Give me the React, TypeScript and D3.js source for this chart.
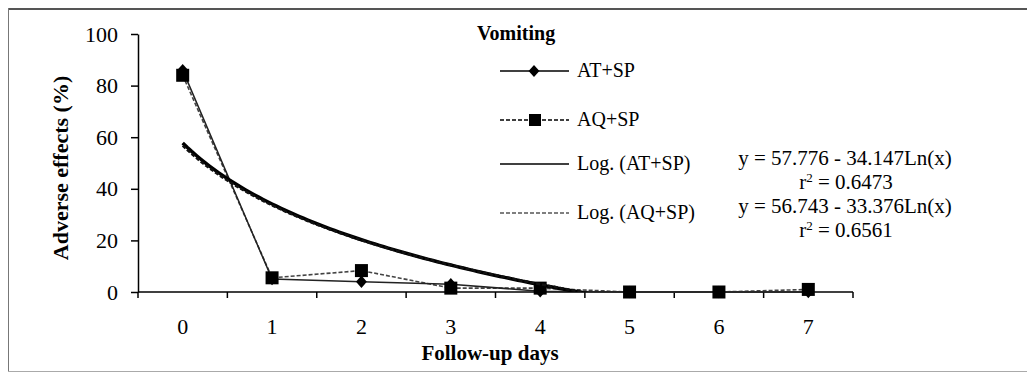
import { useEffect, useRef } from "react";
import * as d3 from "d3";

const days = ["0", "1", "2", "3", "4", "5", "6", "7"];
const atSp = [86, 5, 4, 3, 0.3, 0, 0, 0];
const aqSp = [84, 5.5, 8.3, 1.5, 1.5, 0, 0, 1];
const yTicks = [0, 20, 40, 60, 80, 100];

// trendline coefficients as printed on the chart (x = category index 1..8)
const fitAT = { a: 57.776, b: 34.147, label: "y = 57.776 - 34.147Ln(x)", r2: "0.6473" };
const fitAQ = { a: 56.743, b: 33.376, label: "y = 56.743 - 33.376Ln(x)", r2: "0.6561" };

const FONT = "'Liberation Serif', 'Times New Roman', serif";

export default function App() {
  const svgRef = useRef<SVGSVGElement>(null);

  useEffect(() => {
    const svg = d3.select(svgRef.current);
    svg.selectAll("*").remove();

    const left = 138;
    const right = 853;
    const top = 34;
    const bottom = 292;

    const x = d3.scaleBand<string>().domain(days).range([left, right]);
    const cx = (i: number) => (x(days[i]) ?? 0) + x.bandwidth() / 2;
    const y = d3.scaleLinear().domain([0, 100]).range([bottom, top]);

    // outer frame
    svg.append("line").attr("x1", 8).attr("x2", 1027).attr("y1", 9).attr("y2", 9)
      .attr("stroke", "#555").attr("stroke-width", 2);
    svg.append("line").attr("x1", 8.5).attr("x2", 8.5).attr("y1", 8).attr("y2", 372)
      .attr("stroke", "#777").attr("stroke-width", 1);
    svg.append("line").attr("x1", 8).attr("x2", 1027).attr("y1", 371.5).attr("y2", 371.5)
      .attr("stroke", "#aaa").attr("stroke-width", 1);

    // y axis
    const yAxis = svg.append("g")
      .attr("transform", `translate(${left},0)`)
      .call(d3.axisLeft(y).tickValues(yTicks).tickSize(7).tickSizeOuter(0).tickPadding(13));
    yAxis.select(".domain").attr("stroke", "#000").attr("stroke-width", 1.5);
    yAxis.selectAll("line").attr("stroke", "#000").attr("stroke-width", 1.5);
    yAxis.selectAll("text").attr("font-family", FONT).attr("font-size", 22).attr("fill", "#000");

    // x axis: ticks on category boundaries
    const g = svg.append("g");
    g.append("line").attr("x1", left).attr("x2", right).attr("y1", bottom).attr("y2", bottom)
      .attr("stroke", "#000").attr("stroke-width", 1.5);
    const bounds = days.map((d) => x(d) ?? 0).concat([right]);
    g.selectAll("line.tick").data(bounds).enter().append("line")
      .attr("class", "tick")
      .attr("x1", (d) => d).attr("x2", (d) => d)
      .attr("y1", bottom).attr("y2", bottom + 6)
      .attr("stroke", "#000").attr("stroke-width", 1.5);
    g.selectAll("text").data(days).enter().append("text")
      .attr("x", (_, i) => cx(i)).attr("y", 334)
      .attr("text-anchor", "middle")
      .attr("font-family", FONT).attr("font-size", 22)
      .text((d) => d);

    // axis titles
    svg.append("text")
      .attr("transform", `translate(68,168) rotate(-90)`)
      .attr("text-anchor", "middle")
      .attr("font-family", FONT).attr("font-size", 22).attr("font-weight", "bold")
      .text("Adverse effects (%)");
    svg.append("text")
      .attr("x", 490).attr("y", 360)
      .attr("text-anchor", "middle")
      .attr("font-family", FONT).attr("font-size", 21).attr("font-weight", "bold")
      .text("Follow-up days");

    // clip for trendlines
    svg.append("clipPath").attr("id", "plotClip").append("rect")
      .attr("x", left).attr("y", top).attr("width", right - left).attr("height", bottom - top);

    const line = d3.line<number>().x((_, i) => cx(i)).y((d) => y(d));

    // series AQ+SP (dashed, squares)
    svg.append("path").datum(aqSp).attr("d", line)
      .attr("fill", "none").attr("stroke", "#444").attr("stroke-width", 1.6)
      .attr("stroke-dasharray", "4,2");
    // series AT+SP (solid, diamonds)
    svg.append("path").datum(atSp).attr("d", line)
      .attr("fill", "none").attr("stroke", "#222").attr("stroke-width", 1.5);

    const diamond = d3.symbol().type(d3.symbolDiamond2).size(75);
    svg.selectAll("path.dia").data(atSp).enter().append("path")
      .attr("class", "dia")
      .attr("transform", (d, i) => `translate(${cx(i)},${y(d)}) scale(1,1.15)`)
      .attr("d", diamond()).attr("fill", "#000");
    svg.selectAll("rect.sq").data(aqSp).enter().append("rect")
      .attr("class", "sq")
      .attr("x", (_, i) => cx(i) - 6.5).attr("y", (d) => y(d) - 6.5)
      .attr("width", 13).attr("height", 13).attr("fill", "#000");

    // logarithmic trendlines
    const steps = d3.range(0, 7.001, 0.05);
    const tx = d3.scaleLinear().domain([0, 7]).range([cx(0), cx(7)]);
    const trend = (fit: { a: number; b: number }) =>
      d3.line<number>()
        .x((t) => tx(t))
        .y((t) => y(fit.a - fit.b * Math.log(t + 1)))(steps);
    svg.append("path").attr("d", trend(fitAT)).attr("clip-path", "url(#plotClip)")
      .attr("fill", "none").attr("stroke", "#000").attr("stroke-width", 3.5);
    svg.append("path").attr("d", trend(fitAQ)).attr("clip-path", "url(#plotClip)")
      .attr("fill", "none").attr("stroke", "#111").attr("stroke-width", 2.5)
      .attr("stroke-dasharray", "4,2");

    // legend
    const lg = svg.append("g");
    lg.append("text").attr("x", 477).attr("y", 40)
      .attr("font-family", FONT).attr("font-size", 20).attr("font-weight", "bold")
      .text("Vomiting");
    const items = [
      { label: "AT+SP", dash: null, marker: "diamond", w: 1.5, base: 77 },
      { label: "AQ+SP", dash: "4,2", marker: "square", w: 1.5, base: 126 },
      { label: "Log. (AT+SP)", dash: null, marker: null, w: 1.5, base: 170 },
      { label: "Log. (AQ+SP)", dash: "4,2", marker: null, w: 1.2, base: 219 },
    ];
    items.forEach((it) => {
      const ly = it.base - 6;
      lg.append("line").attr("x1", 500).attr("x2", 569).attr("y1", ly).attr("y2", ly)
        .attr("stroke", "#000").attr("stroke-width", it.w)
        .attr("stroke-dasharray", it.dash ?? null);
      if (it.marker === "diamond") {
        lg.append("path").attr("transform", `translate(534,${ly}) scale(1,1.1)`)
          .attr("d", diamond()).attr("fill", "#000");
      } else if (it.marker === "square") {
        lg.append("rect").attr("x", 529).attr("y", ly - 6).attr("width", 12).attr("height", 12)
          .attr("fill", "#000");
      }
      lg.append("text").attr("x", 577).attr("y", it.base)
        .attr("font-family", FONT).attr("font-size", 20)
        .text(it.label);
    });

    // equations
    [fitAT, fitAQ].forEach((f, i) => {
      const ey = 165 + i * 48;
      svg.append("text").attr("x", 845).attr("y", ey)
        .attr("text-anchor", "middle")
        .attr("font-family", FONT).attr("font-size", 21)
        .text(f.label);
      const t = svg.append("text").attr("x", 846).attr("y", ey + 24)
        .attr("text-anchor", "middle")
        .attr("font-family", FONT).attr("font-size", 21);
      t.append("tspan").text("r");
      t.append("tspan").attr("baseline-shift", "super").attr("font-size", 13).text("2");
      t.append("tspan").text(" = " + f.r2);
    });
  }, []);

  return (
    <svg
      ref={svgRef}
      width={1027}
      height={374}
      style={{ position: "absolute", left: 0, top: 0, background: "#fff" }}
    />
  );
}
